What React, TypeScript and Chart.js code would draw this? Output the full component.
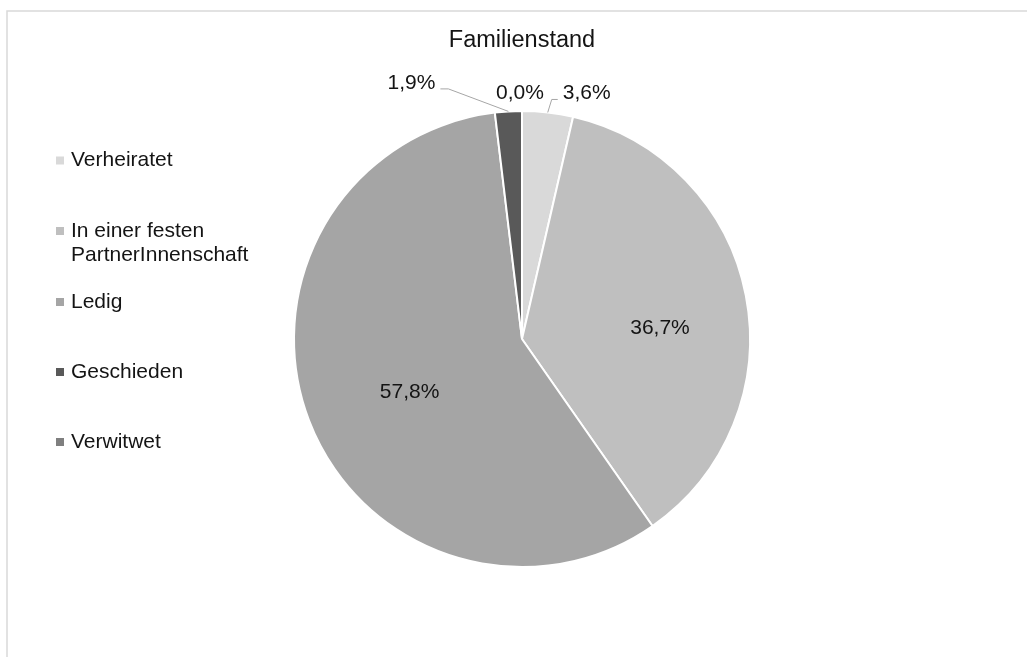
import React, { useEffect, useRef } from "react";
import { Chart, registerables } from "chart.js";

Chart.register(...registerables);

const titleText = "Familienstand";
const categories = ["Verheiratet", "In einer festen PartnerInnenschaft", "Ledig", "Geschieden", "Verwitwet"];
const legendLines = [["Verheiratet"], ["In einer festen", "PartnerInnenschaft"], ["Ledig"], ["Geschieden"], ["Verwitwet"]];
const values = [3.6, 36.7, 57.8, 1.9, 0.0];
const sliceColors = ["#d9d9d9", "#bfbfbf", "#a5a5a5", "#595959", "#7f7f7f"];

const FONT = "'Liberation Sans', Arial, sans-serif";
const TEXT = "#141414";

// label layout per slice: inside (angle offset deg, radius fraction) or outside (offset from the arc's outer mid point)
const labelLayout = [
  { mode: "out", dx: 39, dy: -19, leader: [[4, -13], [10, -13]] },
  { mode: "in", da: 6.6, rf: 0.607 },
  { mode: "in", da: -4.4, rf: 0.545 },
  { mode: "out", dx: -97, dy: -28, leader: [[-60, -22.5], [-68, -22.5]] },
  { mode: "out", dx: -2, dy: -18 },
];

const fmt = (v: number) => v.toFixed(1).replace(".", ",") + "%";

const decorPlugin = {
  id: "decor",
  afterDraw(chart: any) {
    const ctx = chart.ctx;
    ctx.save();
    // outer frame
    ctx.strokeStyle = "#d9d9d9";
    ctx.lineWidth = 1.5;
    ctx.strokeRect(7, 11, 1030, 660);

    // title
    ctx.fillStyle = TEXT;
    ctx.font = `23.5px ${FONT}`;
    ctx.textAlign = "center";
    ctx.textBaseline = "middle";
    const ca = chart.chartArea;
    ctx.fillText(titleText, (ca.left + ca.right) / 2, 41);

    // legend
    const legendY = [160.5, 231, 302, 372, 442];
    ctx.font = `21px ${FONT}`;
    ctx.textAlign = "left";
    const ds = chart.data.datasets[0];
    legendLines.forEach((lines, i) => {
      const y = legendY[i];
      ctx.fillStyle = ds.backgroundColor[i];
      ctx.fillRect(56, y - 4, 8, 8);
      ctx.fillStyle = TEXT;
      lines.forEach((ln, j) => ctx.fillText(ln, 71, y + j * 24));
    });

    // data labels
    const meta = chart.getDatasetMeta(0);
    ctx.font = `21px ${FONT}`;
    ctx.textAlign = "center";
    meta.data.forEach((arc: any, i: number) => {
      const lay: any = labelLayout[i];
      const mid = (arc.startAngle + arc.endAngle) / 2;
      const r = arc.outerRadius;
      const text = fmt(ds.data[i]);
      let tx, ty;
      if (lay.mode === "in") {
        const a = mid + (lay.da * Math.PI) / 180;
        tx = arc.x + Math.cos(a) * r * lay.rf;
        ty = arc.y + Math.sin(a) * r * lay.rf;
      } else {
        const ex = arc.x + Math.cos(mid) * r;
        const ey = arc.y + Math.sin(mid) * r;
        tx = ex + lay.dx;
        ty = ey + lay.dy;
        if (lay.leader) {
          ctx.strokeStyle = "#a6a6a6";
          ctx.lineWidth = 1;
          ctx.beginPath();
          ctx.moveTo(ex, ey);
          lay.leader.forEach((p: number[]) => ctx.lineTo(ex + p[0], ey + p[1]));
          ctx.stroke();
        }
      }
      ctx.fillStyle = TEXT;
      ctx.fillText(text, tx, ty);
    });
    ctx.restore();
  },
};

export default function App() {
  const ref = useRef<HTMLCanvasElement | null>(null);
  useEffect(() => {
    if (!ref.current) return;
    const chart = new Chart(ref.current, {
      type: "pie",
      data: {
        labels: categories,
        datasets: [
          {
            data: values,
            backgroundColor: sliceColors,
            borderColor: "#ffffff",
            borderWidth: 2,
          },
        ],
      },
      options: {
        responsive: false,
        animation: false,
        devicePixelRatio: 1,
        layout: { padding: { left: 293, right: 276, top: 110, bottom: 89 } },
        plugins: {
          legend: { display: false },
          title: { display: false },
          tooltip: { enabled: false },
        },
      },
      plugins: [decorPlugin],
    } as any);
    return () => chart.destroy();
  }, []);
  return (
    <div style={{ position: "absolute", left: 0, top: 0, width: 1027, height: 657, background: "#fff", overflow: "hidden" }}>
      <canvas ref={ref} width={1027} height={657} style={{ display: "block" }} />
    </div>
  );
}
